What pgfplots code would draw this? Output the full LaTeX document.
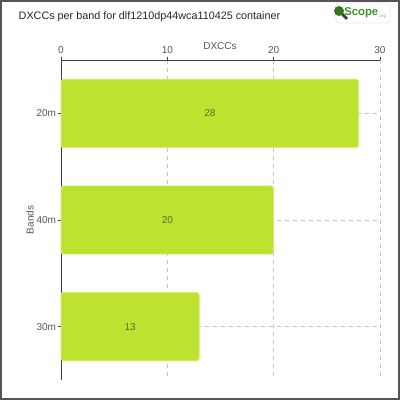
\documentclass[border=0pt]{standalone}
\usepackage{fontspec}
\setmainfont{Liberation Sans}
\usepackage{pgfplots}
\pgfplotsset{compat=1.18}
\definecolor{barfill}{RGB}{189,226,48}
\definecolor{barline}{RGB}{212,238,110}
\definecolor{valtxt}{RGB}{90,110,40}
\definecolor{ticktxt}{RGB}{85,85,85}
\definecolor{frame}{RGB}{85,85,85}
\definecolor{logogreen}{RGB}{60,150,40}
\begin{document}
\begin{tikzpicture}[x=0.75pt,y=0.75pt]
\path[use as bounding box] (0,0) rectangle (400,400);
\draw[frame, line width=1.2pt] (1,1) rectangle (399,399);
\node[anchor=west, font=\fontsize{8.1pt}{10pt}\selectfont, text=black!85] at (14,383) {DXCCs per band for dlf1210dp44wca110425 container};
% logo
\draw[gray!20, rounded corners=2pt] (336,377) rectangle (390,397);
\fill[black!75] (341,385) -- (346,380) -- (348,382) -- (343,387) -- cycle;
\fill[logogreen!80!black] (339,389) circle (5);
\node[anchor=west, inner sep=0pt, font=\bfseries\fontsize{8.5pt}{10pt}\selectfont, text=logogreen] at (344,387) {Scope};
\node[anchor=west, inner sep=0pt, font=\fontsize{3.5pt}{4pt}\selectfont, text=logogreen!60] at (378,383) {.org};
\node[font=\fontsize{7.5pt}{9pt}\selectfont, text=ticktxt] at (220,354) {DXCCs};
\node[rotate=90, font=\fontsize{7.5pt}{9pt}\selectfont, text=ticktxt] at (30,180) {Bands};
\begin{axis}[
  at={(45.75pt,15pt)}, anchor=south west,
  scale only axis, width=239.25pt, height=240pt,
  xmin=0, xmax=30, ymin=-0.5, ymax=2.5, y dir=reverse,
  axis x line=top, axis y line=left,
  axis line style={-, draw=black!75, line width=0.6pt},
  xtick={0,10,20,30}, ytick={0,1,2}, yticklabels={20m,40m,30m},
  tick align=outside, major tick length=2.5pt,
  tick style={draw=black!75, line width=0.5pt},
  every tick label/.append style={font=\fontsize{7.5pt}{9pt}\selectfont, text=ticktxt},
  xticklabel style={yshift=-1pt},
  yticklabel style={xshift=2.3pt},
  /pgf/number format/assume math mode=true,
  grid=major, grid style={dashed, gray!45, line width=0.6pt},
  bar width=51.2pt,
  clip=false,
]
\addplot[xbar, fill=barfill, draw=barline, line width=0.5pt, rounded corners=2pt] coordinates {(28,0) (20,1) (13,2)};
\addplot[only marks, mark=none, nodes near coords, point meta=explicit symbolic,
  nodes near coords style={anchor=center, font=\fontsize{7.5pt}{9pt}\selectfont, text=valtxt}]
  coordinates {(14,0) [28] (10,1) [20] (6.5,2) [13]};
\end{axis}
\end{tikzpicture}
\end{document}
